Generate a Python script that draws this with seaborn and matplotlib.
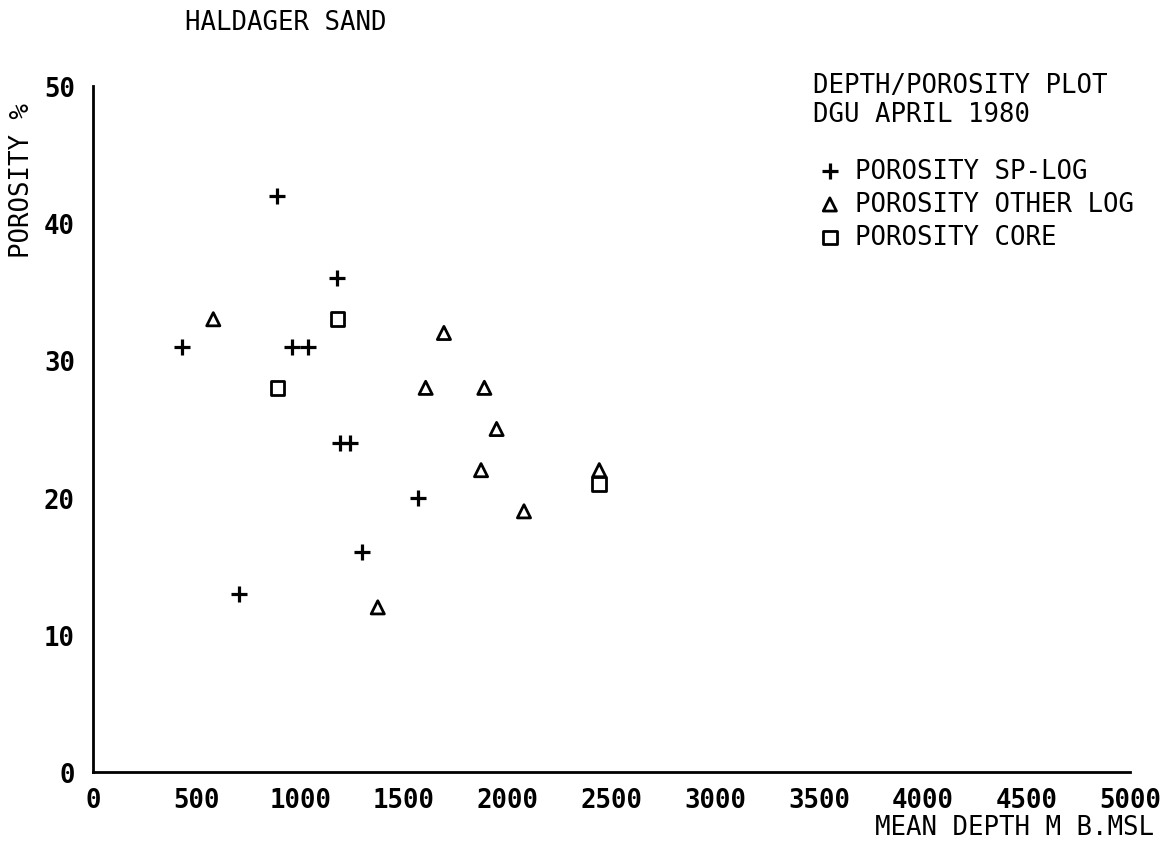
import matplotlib
matplotlib.use("Agg")
import matplotlib.pyplot as plt
import seaborn as sns
import pandas as pd

# ---- data ----
sp_depth = [430, 886, 704, 1178, 958, 1038, 1191, 1239, 1296, 1569]
sp_por = [31, 42, 13, 36, 31, 31, 24, 24, 16, 20]
other_depth = [580, 1692, 1604, 1887, 1946, 1871, 2078, 1373, 2441]
other_por = [33, 32, 28, 28, 25, 22, 19, 12, 22]
core_depth = [1178, 890, 2441]
core_por = [33, 28, 21]

x_ticks = [0, 500, 1000, 1500, 2000, 2500, 3000, 3500, 4000, 4500, 5000]
y_ticks = [0, 10, 20, 30, 40, 50]

title_left = "HALDAGER SAND"
title_right = ["DEPTH/POROSITY PLOT", "DGU APRIL 1980"]
series_labels = ["POROSITY SP-LOG", "POROSITY OTHER LOG", "POROSITY CORE"]
x_label = "MEAN DEPTH M B.MSL"
y_label = "POROSITY %"

sns.set_theme(style="white")
plt.rcParams["font.family"] = ["DejaVu Sans Mono", "DejaVu Sans"]
FS = 18.5

W, H = 1164, 845
fig = plt.figure(figsize=(W / 100, H / 100), dpi=100)
ax = fig.add_axes([93 / W, 1 - 773 / H, (1130 - 93) / W, (773 - 87) / H])

df_sp = pd.DataFrame({"depth": sp_depth, "por": sp_por})
df_ot = pd.DataFrame({"depth": other_depth, "por": other_por})
df_co = pd.DataFrame({"depth": core_depth, "por": core_por})

sns.scatterplot(data=df_sp, x="depth", y="por", marker="+", color="black",
                s=125, linewidth=2.3, ax=ax, label=series_labels[0])
sns.scatterplot(data=df_ot, x="depth", y="por", marker="^", color="black",
                s=90, linewidth=2.0, ax=ax, label=series_labels[1])
sns.scatterplot(data=df_co, x="depth", y="por", marker="s", color="black",
                s=95, linewidth=2.0, ax=ax, label=series_labels[2])

# hollow triangle & square
for coll in ax.collections[1:3]:
    coll.set_facecolor("none")
    coll.set_edgecolor("black")

ax.set_xlim(0, 5000)
ax.set_ylim(0, 50)
ax.set_xticks(x_ticks)
ax.set_yticks(y_ticks)
ax.set_xticklabels([str(v) for v in x_ticks], fontsize=FS, fontweight="bold")
ax.set_yticklabels([str(v) for v in y_ticks], fontsize=FS, fontweight="bold")
ax.tick_params(axis="both", direction="in", length=7, width=1.5, color="black",
               labelcolor="black")
ax.tick_params(axis="x", pad=11)
ax.tick_params(axis="y", pad=13)
ax.set_xlabel("")
ax.set_ylabel("")
for side in ["top", "right"]:
    ax.spines[side].set_visible(False)
for side in ["left", "bottom"]:
    ax.spines[side].set_color("black")
    ax.spines[side].set_linewidth(2.0)

# legend
leg = ax.legend(loc="upper left", bbox_to_anchor=(817 / W, 1 - 159 / H),
                bbox_transform=fig.transFigure, frameon=False, fontsize=FS,
                handlelength=1.0, handletextpad=0.48, labelspacing=0.28,
                borderpad=0, borderaxespad=0, markerscale=1.0)
for t in leg.get_texts():
    t.set_color("black")

# texts
fig.text(185 / W, 1 - 23 / H, title_left, fontsize=FS, color="black",
         ha="left", va="center")
fig.text(813 / W, 1 - 86 / H, title_right[0], fontsize=FS, color="black",
         ha="left", va="center")
fig.text(813 / W, 1 - 115 / H, title_right[1], fontsize=FS, color="black",
         ha="left", va="center")
fig.text(1154 / W, 1 - 828 / H, x_label, fontsize=FS, color="black",
         ha="right", va="center")
fig.text(22 / W, 1 - 180 / H, y_label, fontsize=FS, color="black",
         ha="center", va="center", rotation=90)

fig.savefig("out.png", dpi=100, facecolor="white")
